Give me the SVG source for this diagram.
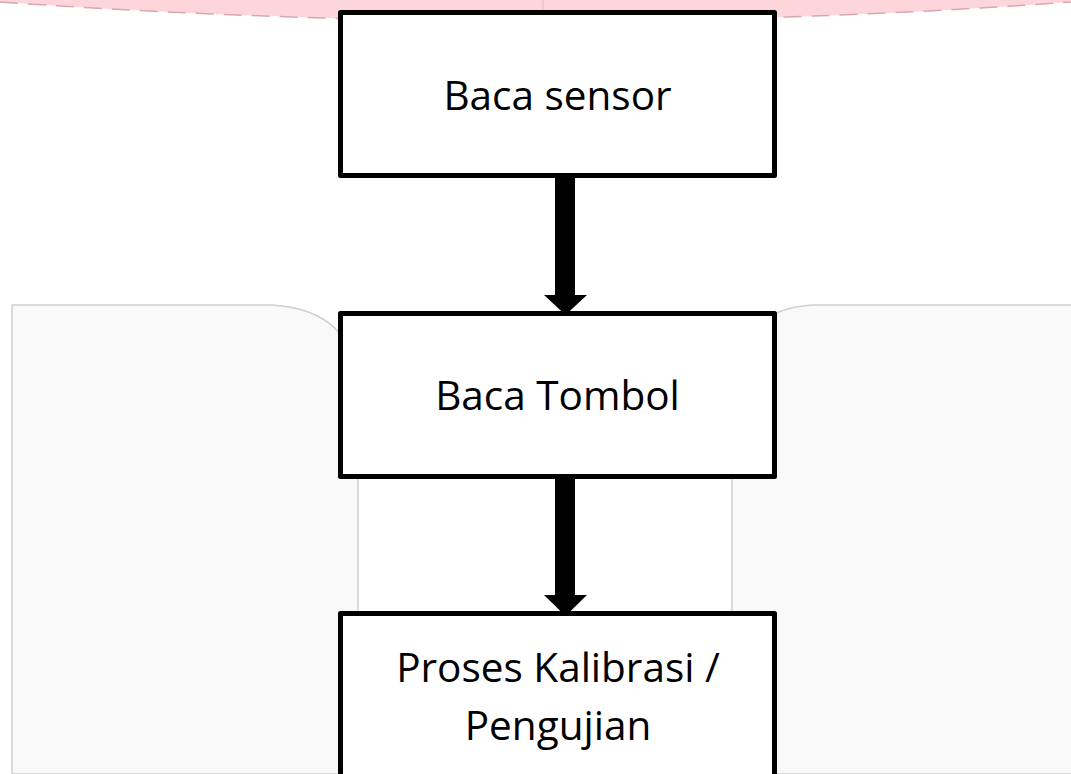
<svg xmlns="http://www.w3.org/2000/svg" width="1071" height="774" viewBox="0 0 1071 774">
<style>
.box{fill:#ffffff;stroke:#000000;stroke-width:5;stroke-linejoin:round}
.lbl{font-family:"Open Sans","Liberation Sans",sans-serif;font-size:40.5px;fill:#000000;text-anchor:middle}
.panel{fill:#f9f9f9;stroke:#cfcfcf;stroke-width:1.5}
.arrow{fill:#000000}
</style>
<rect width="1071" height="774" fill="#ffffff"/>
<g id="background">
<path d="M0,0 L0,2 Q545,40 1071,2 L1071,0 Z" fill="#fcd6da"/>
<path d="M0,2 Q545,40 1071,2" fill="none" stroke="#d9a8ae" stroke-width="1.5" stroke-dasharray="18,10"/>
<line x1="543" y1="0" x2="543" y2="20" stroke="#e8b8be" stroke-width="1"/>
<path class="panel" d="M12,774 L12,305 L272,305 Q356,310 358,390 L358,774 Z"/>
<path class="panel" d="M1080,305 L812,305 Q735,310 732,390 L732,774 L1080,774 Z"/>
</g>
<g id="node-baca-sensor">
<rect class="box" x="340.5" y="12.5" width="434" height="163"/>
<text class="lbl" x="557.5" y="110">Baca sensor</text>
</g>
<g id="node-baca-tombol">
<rect class="box" x="340.5" y="313.5" width="434" height="163"/>
<text class="lbl" x="557.5" y="410">Baca Tombol</text>
</g>
<g id="node-proses">
<rect class="box" x="340.5" y="613.5" width="434" height="200"/>
<text class="lbl" x="558" y="682">Proses Kalibrasi /</text>
<text class="lbl" x="558" y="740">Pengujian</text>
</g>
<g id="connectors">
<polygon class="arrow" points="555,176 575,176 575,295 587,295 565.5,315 544,295 555,295"/>
<polygon class="arrow" points="555,477 575,477 575,595 587,595 565.5,616 544,595 555,595"/>
</g>
</svg>
